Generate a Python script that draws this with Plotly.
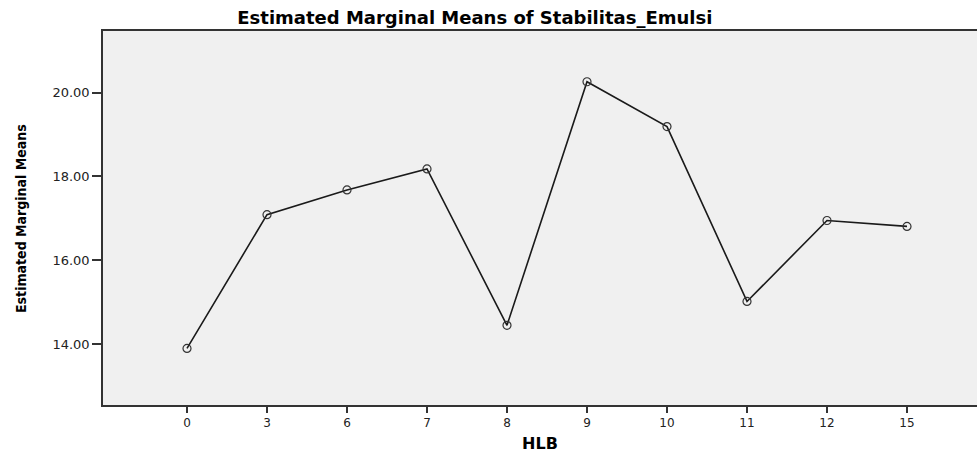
import plotly.graph_objects as go

hlb_categories = ["0", "3", "6", "7", "8", "9", "10", "11", "12", "15"]
estimated_means = [13.90, 17.09, 17.68, 18.18, 14.45, 20.26, 19.19, 15.02, 16.95, 16.81]
y_tick_values = [14, 16, 18, 20]
y_tick_labels = ["14.00", "16.00", "18.00", "20.00"]

chart_title = "Estimated Marginal Means of Stabilitas_Emulsi"
x_title = "HLB"
y_title = "Estimated Marginal Means"

fig = go.Figure()
fig.add_trace(go.Scatter(
    x=hlb_categories,
    y=estimated_means,
    mode="lines+markers",
    line=dict(color="#1a1a1a", width=1.6),
    marker=dict(symbol="circle-open", size=8, color="#333333", line=dict(width=1.2, color="#333333")),
    showlegend=False,
    hoverinfo="x+y",
))

axis_color = "#333333"
fig.update_layout(
    width=977,
    height=453,
    margin=dict(l=103, r=0, t=31, b=46),
    paper_bgcolor="white",
    plot_bgcolor="#f0f0f0",
    title=dict(
        text=chart_title,
        x=0.486, xref="container", xanchor="center",
        y=0.962, yref="container", yanchor="middle",
        font=dict(family="DejaVu Sans", size=18, color="black", weight="bold"),
    ),
    xaxis=dict(
        type="category",
        range=[-1.05, 9.875],
        showgrid=False,
        zeroline=False,
        showline=True,
        linecolor=axis_color,
        linewidth=1.5,
        mirror=True,
        ticks="outside",
        ticklen=6,
        tickwidth=1.5,
        tickcolor=axis_color,
        tickfont=dict(family="DejaVu Sans", size=12, color="#222222"),
        title=dict(text=x_title, standoff=12,
                   font=dict(family="DejaVu Sans", size=16, color="black", weight="bold")),
    ),
    yaxis=dict(
        range=[12.55, 21.47],
        tickvals=y_tick_values,
        ticktext=y_tick_labels,
        showgrid=False,
        zeroline=False,
        showline=True,
        linecolor=axis_color,
        linewidth=1.5,
        ticks="outside",
        ticklen=9,
        tickwidth=1.5,
        tickcolor=axis_color,
        tickfont=dict(family="DejaVu Sans", size=13, color="#222222"),
    ),
    annotations=[dict(
        text=y_title,
        xref="paper", yref="paper",
        x=-82 / 874, y=(407 - 220) / 376,
        xanchor="center", yanchor="middle",
        textangle=-90,
        showarrow=False,
        font=dict(family="DejaVu Sans Condensed, Liberation Sans Narrow, Arial Narrow, sans-serif",
                  size=14, color="black", weight="bold"),
    )],
)

fig.write_html("out.html", config={"displayModeBar": False},
               post_script="document.body.style.margin='0';")
